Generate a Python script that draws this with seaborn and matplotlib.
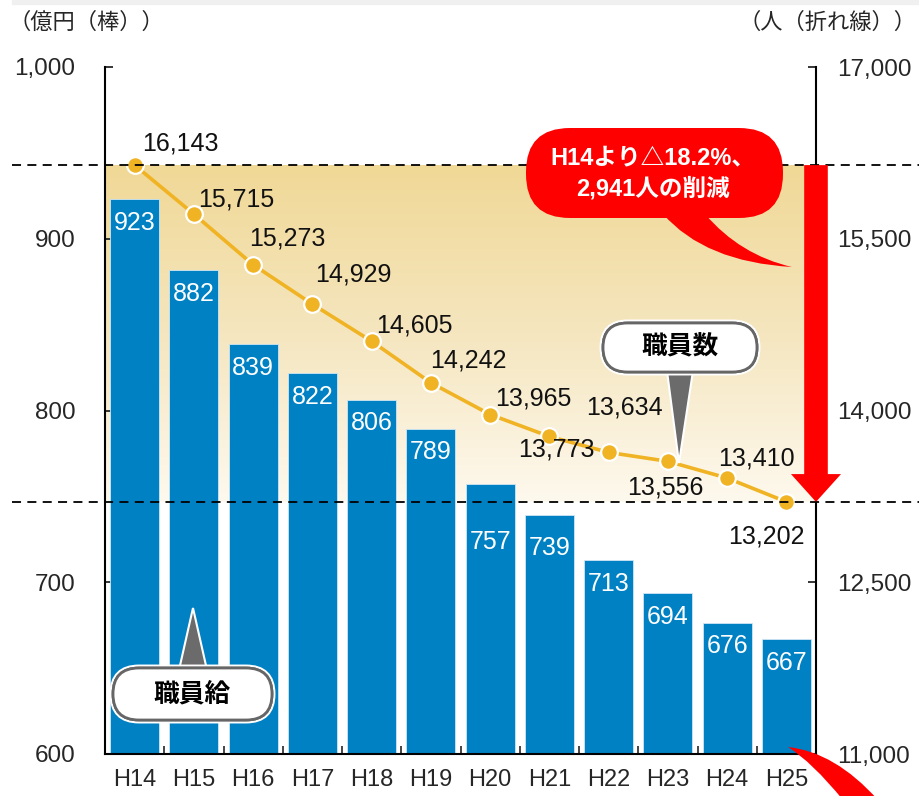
import numpy as np
import seaborn as sns
import matplotlib.pyplot as plt
import matplotlib.transforms as mtransforms
import matplotlib.patheffects as pe
from matplotlib.colors import LinearSegmentedColormap
from matplotlib.patches import FancyBboxPatch, Polygon, PathPatch, Rectangle
from matplotlib.path import Path

# データ
years = ['H14', 'H15', 'H16', 'H17', 'H18', 'H19', 'H20', 'H21', 'H22', 'H23', 'H24', 'H25']
salary = [923, 882, 839, 822, 806, 789, 757, 739, 713, 694, 676, 667]          # 億円（棒）
staff = [16143, 15715, 15273, 14929, 14605, 14242, 13965, 13773, 13634, 13556, 13410, 13202]  # 人（折れ線）

salary_ticks = [600, 700, 800, 900, 1000]
salary_ticklabels = ['600', '700', '800', '900', '1,000']
staff_ticks = [11000, 12500, 14000, 15500, 17000]
staff_ticklabels = ['11,000', '12,500', '14,000', '15,500', '17,000']

bubble_text = 'H14より△18.2%、\n2,941人の削減'

# ラベル位置（ピクセル単位のずれ）
staff_label_offsets = [(7, 22), (4, 15), (-4, 26), (3, 30), (4, 16), (-1, 22),
                       (5, 16), (-31, -13), (-23, 45), (-41, -26), (-9, 20), (-58, -35)]
bar_label_drop = [24, 24, 24, 24, 23, 23, 58, 33, 24, 24, 23, 24]

BAR_COLOR = '#0081c4'
LINE_COLOR = '#f0b323'
W, H = 919, 796

sns.set_style('white')
plt.rcParams['font.family'] = ['Liberation Sans', 'Noto Sans CJK JP']

fig = plt.figure(figsize=(W / 100, H / 100), dpi=100)
ax = fig.add_axes([105 / W, 1 - 754 / H, 711 / W, 687 / H])

# 背景グラデーション（H14〜H25 の職員数の範囲）
def to_left(v):
    return salary_ticks[0] + (v - staff_ticks[0]) * (salary_ticks[-1] - salary_ticks[0]) / (staff_ticks[-1] - staff_ticks[0])

cmap = LinearSegmentedColormap.from_list('beige', ['#fef9ee', '#f5e6bf', '#f0d896'])
grad = np.linspace(0, 1, 256).reshape(-1, 1)
ax.imshow(grad, extent=(-0.5, 11.5, to_left(staff[-1]), to_left(staff[0])),
          origin='lower', aspect='auto', cmap=cmap, zorder=0)

# 棒グラフ（職員給）
sns.barplot(x=years, y=salary, ax=ax, color=BAR_COLOR, saturation=1, width=0.83,
            edgecolor='#cfe6f4', linewidth=0.6, zorder=2)
for i, v in enumerate(salary):
    ax.annotate(f'{v}', xy=(i, v), xytext=(0, -bar_label_drop[i]), textcoords='offset pixels',
                ha='center', va='center', color='white', fontsize=18, zorder=3)

ax.set_ylim(salary_ticks[0], salary_ticks[-1])
ax.set_yticks(salary_ticks)
ax.set_yticklabels(salary_ticklabels)
ax.set_xlabel('')
ax.set_ylabel('')
for s in ['top', 'right']:
    ax.spines[s].set_visible(False)
for s in ['left', 'bottom']:
    ax.spines[s].set_linewidth(1.5)
    ax.spines[s].set_color('black')
ax.tick_params(axis='y', direction='in', length=6, width=1.3, pad=21.5, labelsize=17.5, left=True)
ax.tick_params(axis='x', which='major', length=0, pad=11, labelsize=17)
ax.set_xticks(np.arange(0.5, 11, 1), minor=True)
ax.tick_params(axis='x', which='minor', direction='in', length=6, width=1.2, bottom=True)

# 折れ線グラフ（職員数）
ax2 = ax.twinx()
sns.lineplot(x=np.arange(len(staff)), y=staff, ax=ax2, color=LINE_COLOR, linewidth=2.6,
             marker='o', markersize=12, markerfacecolor=LINE_COLOR,
             markeredgecolor='white', markeredgewidth=1.6, zorder=4)
for i, v in enumerate(staff):
    dx, dy = staff_label_offsets[i]
    ax2.annotate(f'{v:,}', xy=(i, v), xytext=(dx, dy), textcoords='offset pixels',
                 ha='left', va='center', fontsize=18, color='#111111', zorder=5)

ax2.set_ylim(staff_ticks[0], staff_ticks[-1])
ax2.set_yticks(staff_ticks)
ax2.set_yticklabels(staff_ticklabels)
ax2.set_xlabel('')
ax2.set_ylabel('')
for s in ['top', 'left', 'bottom']:
    ax2.spines[s].set_visible(False)
ax2.spines['right'].set_linewidth(1.5)
ax2.spines['right'].set_color('black')
ax2.tick_params(axis='y', direction='in', length=6, width=1.3, pad=15, labelsize=17.5, right=True)
ax.set_xlim(-0.5, 11.5)

# 破線（H14 と H25 の水準）
ytrans = ax2.get_yaxis_transform()
for v in (staff[0], staff[-1]):
    ax2.plot([-0.131, 1.15], [v, v], transform=ytrans, clip_on=False,
             color='black', linewidth=1.3, linestyle=(0, (5, 3.5)), zorder=6)

# 赤い矢印
ax2.annotate('', xy=(1.0, staff[-1]), xytext=(1.0, staff[0]),
             xycoords=ytrans, textcoords=ytrans, annotation_clip=False,
             arrowprops=dict(arrowstyle='simple,head_length=20,head_width=36,tail_width=17',
                             mutation_scale=1, color='#ff0000', lw=0, shrinkA=0, shrinkB=0),
             zorder=7)

# 図のピクセル座標（左上原点）
pix = mtransforms.Affine2D().scale(1 / W, -1 / H).translate(0, 1) + fig.transFigure

fig.patches.append(Rectangle((12, 0), W - 12, 4, transform=pix, color='#f0f0f0', zorder=0))

# 吹き出し（赤）
fig.patches.append(FancyBboxPatch((526, 128), 257, 90, boxstyle='round,pad=0,rounding_size=44',
                                  transform=pix, fc='#ff0000', ec='none', zorder=8))
tail = Path([(663, 214), (705, 262), (792, 267), (740, 255), (705, 214), (663, 214)],
            [Path.MOVETO, Path.CURVE3, Path.CURVE3, Path.CURVE3, Path.CURVE3, Path.CLOSEPOLY])
fig.patches.append(PathPatch(tail, transform=pix, fc='#ff0000', ec='none', zorder=8))
fig.text(653, 173, bubble_text, transform=pix, ha='center', va='center', color='white',
         fontsize=17, fontweight='bold', linespacing=1.4, zorder=9)

# 右下の赤い形
wedge = Path([(788, 747), (835, 752), (878, 800), (843, 800), (812, 762), (788, 747), (788, 747)],
             [Path.MOVETO, Path.CURVE3, Path.CURVE3, Path.LINETO, Path.CURVE3, Path.CURVE3, Path.CLOSEPOLY])
fig.patches.append(PathPatch(wedge, transform=pix, fc='#ff0000', ec='none', zorder=8))

# 吹き出し（職員数・職員給）
halo = [pe.withStroke(linewidth=5, foreground='white')]
callouts = [('職員数', (603, 323, 154, 49), [(667, 371), (693, 371), (679, 463)]),
            ('職員給', (113, 668, 159, 52), [(179, 670), (207, 670), (193, 608)])]
for label, (bx, by, bw, bh), tri in callouts:
    fig.patches.append(Polygon(tri, closed=True, transform=pix, fc='#6b6b6b', ec='white',
                               lw=1.5, zorder=8))
    box = FancyBboxPatch((bx, by), bw, bh, boxstyle=f'round,pad=0,rounding_size={bh / 2}',
                         transform=pix, fc='white', ec='#666666', lw=2, zorder=9)
    box.set_path_effects(halo + [pe.Normal()])
    fig.patches.append(box)
    fig.text(bx + bw / 2, by + bh / 2, label, transform=pix, ha='center', va='center',
             fontsize=18.5, fontweight='bold', color='black', zorder=10)

# 軸タイトル
fig.text(8, 23, '（億円（棒））', transform=pix, ha='left', va='center', fontsize=16)
fig.text(916, 23, '（人（折れ線））', transform=pix, ha='right', va='center', fontsize=16)

fig.savefig('out.png', dpi=100)
